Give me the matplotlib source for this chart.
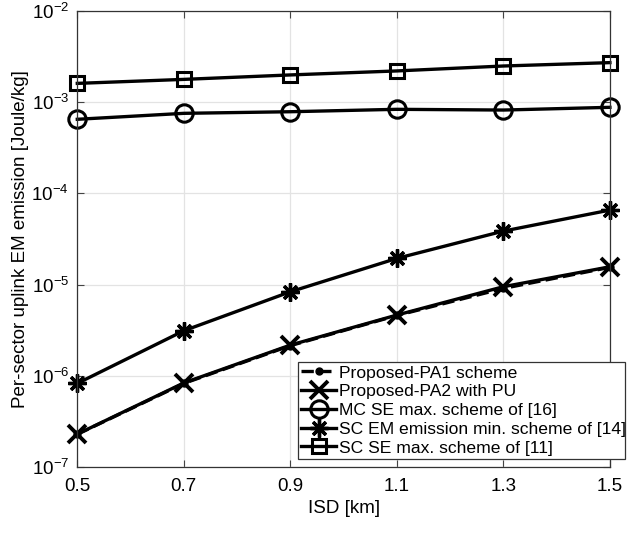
import matplotlib
matplotlib.use("Agg")
import matplotlib.pyplot as plt

# ISD values [km]
isd = [0.5, 0.7, 0.9, 1.1, 1.3, 1.5]

# per-sector uplink EM emission [Joule/kg]
pa1 = [2.30e-7, 8.3e-7, 2.15e-6, 4.6e-6, 9.1e-6, 1.55e-5]
pa2_pu = [2.31e-7, 8.4e-7, 2.18e-6, 4.65e-6, 9.5e-6, 1.57e-5]
mc_se_max = [6.47e-4, 7.52e-4, 7.83e-4, 8.32e-4, 8.17e-4, 8.75e-4]
sc_em_min = [8.3e-7, 3.13e-6, 8.36e-6, 1.94e-5, 3.86e-5, 6.56e-5]
sc_se_max = [1.60e-3, 1.77e-3, 1.98e-3, 2.19e-3, 2.48e-3, 2.70e-3]

labels = [
    "Proposed-PA1 scheme",
    "Proposed-PA2 with PU",
    "MC SE max. scheme of [16]",
    "SC EM emission min. scheme of [14]",
    "SC SE max. scheme of [11]",
]

plt.rcParams["font.family"] = ["Liberation Sans", "DejaVu Sans"]

fig = plt.figure(figsize=(6.42, 5.35), dpi=100)
ax = fig.add_axes([0.1204, 0.1265, 0.8296, 0.8535])

lw = 2.4
mew = 2.2
ax.plot(isd, pa1, "k--", marker="o", ms=5, lw=lw, clip_on=False, label=labels[0])
ax.plot(isd, pa2_pu, "k-", marker="x", ms=13, mew=2.8, lw=lw, clip_on=False, label=labels[1])
ax.plot(isd, mc_se_max, "k-", marker="o", ms=12.5, mfc="none", mew=mew, lw=lw,
        clip_on=False, label=labels[2])
ax.plot(isd, sc_em_min, "k-", marker=(8, 2, 0), ms=13, mew=2.4, lw=lw,
        clip_on=False, label=labels[3])
ax.plot(isd, sc_se_max, "k-", marker="s", ms=10.5, mfc="none", mew=mew, lw=lw,
        clip_on=False, label=labels[4])

ax.set_yscale("log")
ax.set_xlim(0.5, 1.5)
ax.set_ylim(1e-7, 1e-2)
ax.set_xticks(isd)
ax.set_xticklabels(["0.5", "0.7", "0.9", "1.1", "1.3", "1.5"])
ax.minorticks_off()
ax.tick_params(which="both", direction="in", top=True, right=True,
               labelsize=13.5, length=5, color="#444444")
ax.tick_params(axis="x", pad=8)
ax.tick_params(axis="y", pad=6)
ax.grid(True, color="#e3e3e3", lw=0.9)
ax.set_axisbelow(True)
for s in ax.spines.values():
    s.set_color("#333333")
    s.set_linewidth(0.9)

ax.set_xlabel("ISD [km]", fontsize=13.5, labelpad=3)
ax.set_ylabel("Per-sector uplink EM emission [Joule/kg]", fontsize=13.5, labelpad=2)

leg = ax.legend(loc="lower left", bbox_to_anchor=(0.414, 0.018, 0.615, 0.283),
                mode="expand", fontsize=12.6, frameon=True, fancybox=False,
                borderpad=0.2, labelspacing=0.2, handlelength=2.0,
                handletextpad=0.15, borderaxespad=0.0)
leg.get_frame().set_edgecolor("#333333")
leg.get_frame().set_linewidth(0.9)
leg.get_frame().set_alpha(1.0)
leg.set_zorder(5)

fig.savefig("out.png", dpi=100)
